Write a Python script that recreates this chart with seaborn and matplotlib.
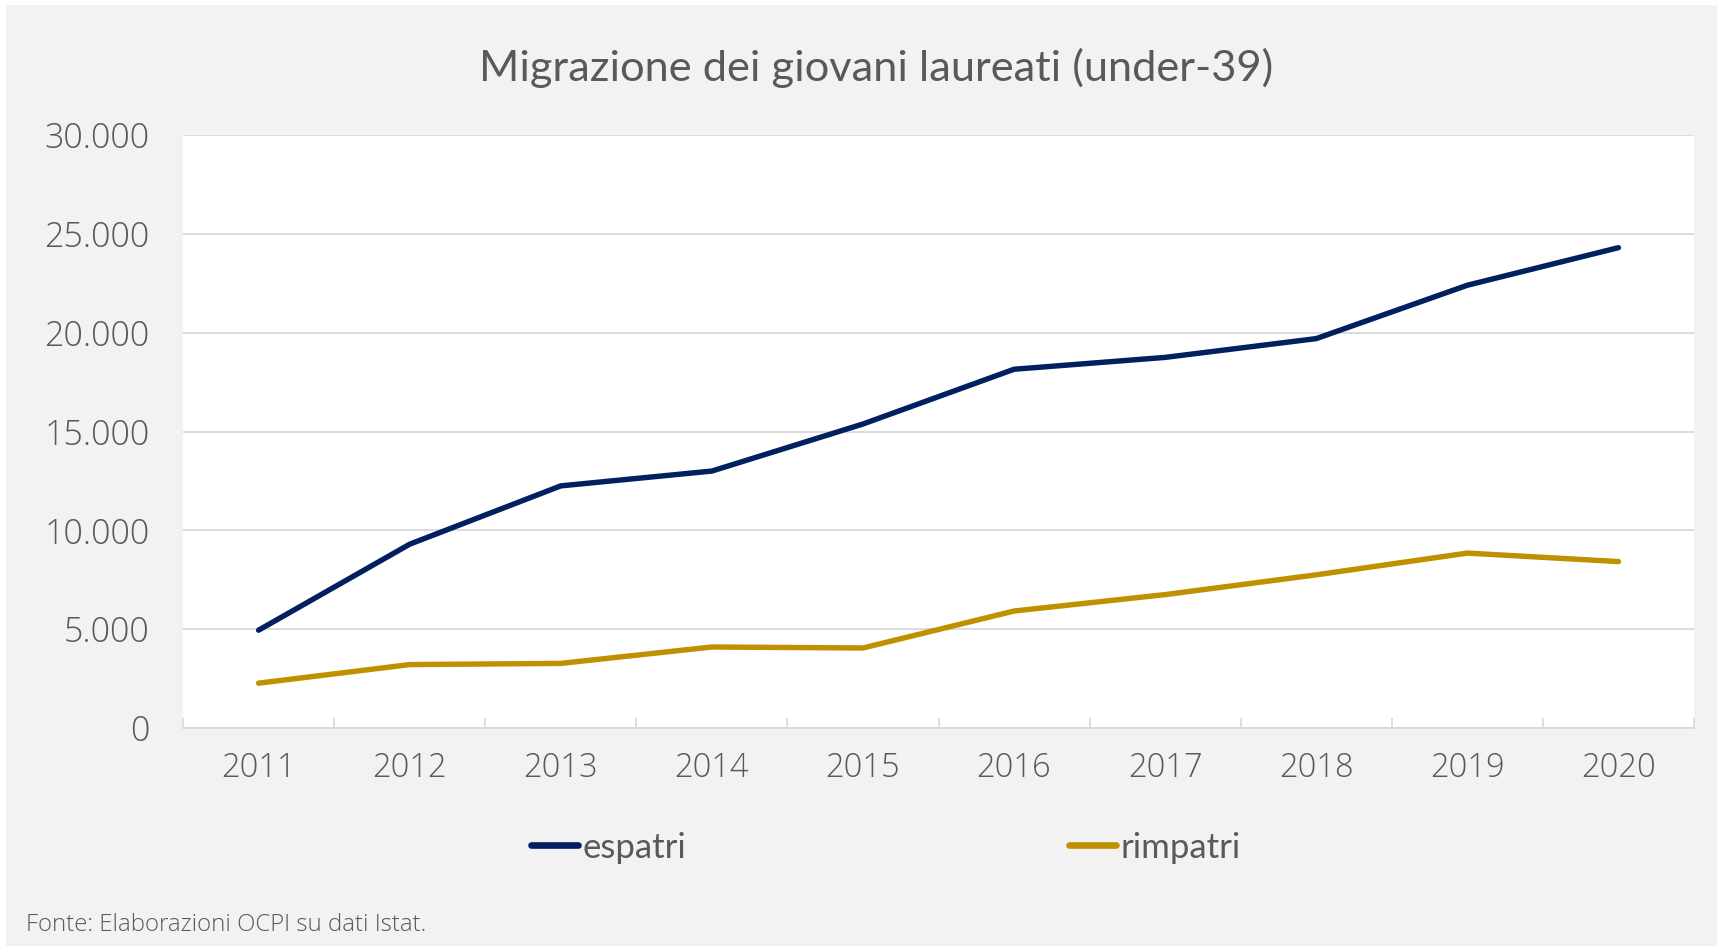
import pandas as pd
import numpy as np
import matplotlib.pyplot as plt
import matplotlib.ticker as mticker
from matplotlib.patches import Rectangle
import seaborn as sns

# data
years = [2011, 2012, 2013, 2014, 2015, 2016, 2017, 2018, 2019, 2020]
espatri = [4950, 9300, 12250, 13000, 15380, 18150, 18750, 19700, 22400, 24300]
rimpatri = [2270, 3210, 3270, 4100, 4050, 5920, 6750, 7750, 8850, 8420]
series_names = ["espatri", "rimpatri"]
series_colors = ["#002060", "#BF9000"]

df = pd.DataFrame({
    "anno": years * 2,
    "valore": espatri + rimpatri,
    "serie": ["espatri"] * len(years) + ["rimpatri"] * len(years),
})

sns.set_theme(style="white")
plt.rcParams['font.family'] = ['Open Sans', 'DejaVu Sans']
text_col = "#595959"
grid_col = "#d9d9d9"

fig = plt.figure(figsize=(17.17, 9.46), dpi=100)
fig.patch.set_facecolor("white")
fig.add_artist(Rectangle((6 / 1717, 0), 1, 1 - 5 / 946, transform=fig.transFigure,
                         facecolor="#f2f2f2", edgecolor="none", zorder=-10))

ax = fig.add_axes([0.1066, 0.2304, 0.88, 0.6269])
ax.set_facecolor("white")

sns.lineplot(data=df, x="anno", y="valore", hue="serie", hue_order=series_names,
             palette=series_colors, linewidth=3.9, ax=ax, legend=False,
             solid_capstyle="round", solid_joinstyle="round")

ax.set_ylim(0, 30000)
ax.set_yticks(np.arange(0, 30001, 5000))
ax.yaxis.set_major_formatter(mticker.FuncFormatter(lambda v, p: f"{int(v):,}".replace(",", ".")))
ax.set_xlim(years[0] - 0.5, years[-1] + 0.5)
ax.set_xticks(years)
ax.set_xticks(np.arange(years[0] - 0.5, years[-1] + 1, 1), minor=True)
ax.tick_params(axis="x", which="major", length=0, pad=17, labelsize=23.5, labelcolor=text_col)
ax.tick_params(axis="x", which="minor", length=7, width=1.2, direction="in", color=grid_col, bottom=True)
ax.tick_params(axis="y", length=0, pad=24, labelsize=24.5, labelcolor=text_col)
for lab in ax.get_xticklabels() + ax.get_yticklabels():
    lab.set_fontweight("light")
ax.grid(axis="y", color=grid_col, linewidth=1.3)
ax.set_axisbelow(True)
for s in ["top", "right", "left"]:
    ax.spines[s].set_visible(False)
ax.spines["bottom"].set_color(grid_col)
ax.spines["bottom"].set_linewidth(1.3)
ax.set_xlabel("")
ax.set_ylabel("")

fig.text(0.51, 0.928, "Migrazione dei giovani laureati (under-39)", ha="center", va="center",
         fontsize=31.2, color=text_col, family=["Lato", "DejaVu Sans"])

handles = [plt.Line2D([], [], color=c, linewidth=4.8, solid_capstyle="round") for c in series_colors]
fig.legend(handles, series_names, loc="center", bbox_to_anchor=(0.516, 0.104), ncol=2,
           frameon=False, handlelength=1.35, handletextpad=0.15, columnspacing=11.0,
           prop={"family": ["Lato", "DejaVu Sans"], "size": 25},
           labelcolor=text_col)

fig.text(0.015, 0.022, "Fonte: Elaborazioni OCPI su dati Istat.", ha="left", va="center",
         fontsize=17.3, fontweight="light", color=text_col)

fig.savefig("out.png", dpi=100)
